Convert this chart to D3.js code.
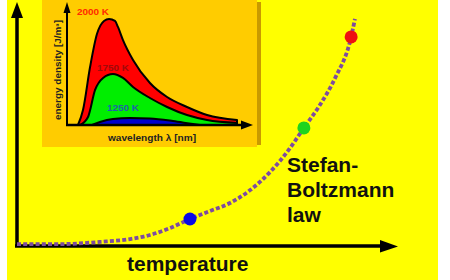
<!DOCTYPE html>
<html><head><meta charset="utf-8">
<script src="https://cdn.jsdelivr.net/npm/d3@7"></script>
<style>html,body{margin:0;padding:0;background:#fff;overflow:hidden}</style>
</head><body>
<svg id="c" width="450" height="280"></svg>
<script>
// ---- main curve (Stefan-Boltzmann) ----
const mainTemp   = [0, 11.3, 21.8, 29.7, 34.9, 40.2, 45.4, 50.7, 55.9, 61.2, 66.4, 71.1, 75.3, 79.5, 83.5, 87.7, 88.7];
const mainEnergy = [0.8, 0.8, 1.7, 2.9, 4.6, 7.5, 11.25, 14.6, 17.9, 23.3, 30.8, 39.6, 49.2, 58.75, 70, 87.1, 94.6];
const markerTemp   = [45.4, 75.3, 87.7];
const markerEnergy = [11.25, 49.2, 87.1];
const markerNames  = ["1250 K", "1750 K", "2000 K"];

// ---- inset spectra ----
const spectrumLabels = ["2000 K", "1750 K", "1250 K"];
const wl2000 = [5.9, 8.6, 12.4, 16.1, 19.9, 22.6, 25.8, 27.4, 30.1, 35.5, 44.6, 53.8, 64.5, 75.3, 91.4];
const en2000 = [0, 12.5, 48.3, 75.8, 86.7, 88.3, 86.7, 81.7, 70.8, 54.2, 35, 23.3, 15, 8.3, 4.2];
const wl1750 = [7.0, 11.3, 15.1, 19.4, 24.7, 30.1, 35.5, 44.6, 53.8, 64.5, 75.3, 91.4];
const en1750 = [0, 6.7, 29.2, 39.2, 42.5, 39.2, 31.7, 22.5, 15, 8.3, 4.2, 1.7];
const wl1250 = [13.4, 17.7, 24.7, 33.9, 44.6, 57.0, 67.7, 71.5];
const en1250 = [0, 2.5, 5, 5.8, 5.4, 3.3, 0.8, 0];

const xLabel = "temperature";
const lawLines = ["Stefan-", "Boltzmann", "law"];
const insetXLabel = "wavelength λ [nm]";
const insetYLabel = "energy density [J/m³]";

// ---- styles ----
const markerColors = {"1250 K": "#0a0ae6", "1750 K": "#1ed41e", "2000 K": "#ee1111"};
const fillColors = {"2000 K": "#ff0000", "1750 K": "#00ee00", "1250 K": "#0000cc"};
const labelColors = {"2000 K": "#ff2a00", "1750 K": "#a00a0a", "1250 K": "#1f63a8"};
const FONT = "'Liberation Sans', Arial, Helvetica, sans-serif";

const svg = d3.select("#c");

// backgrounds
svg.append("rect").attr("x", 7).attr("y", 0).attr("width", 431).attr("height", 280).attr("fill", "#ffff00");

const x = d3.scaleLinear([0, 100], [17, 398]);
const y = d3.scaleLinear([0, 100], [246, 6]);

// main axes
const ax = svg.append("g");
ax.append("line").attr("x1", x(0)).attr("y1", y(0)).attr("x2", x(0)).attr("y2", 16)
  .attr("stroke", "#000").attr("stroke-width", 3.5);
ax.append("path").attr("d", `M${x(0)},2 L${x(0)-6},18 L${x(0)+6},18 Z`).attr("fill", "#000");
ax.append("line").attr("x1", x(0)-2).attr("y1", y(0)).attr("x2", x(100)-14).attr("y2", y(0))
  .attr("stroke", "#000").attr("stroke-width", 3.5);
ax.append("path").attr("d", `M${x(100)},${y(0)+0.5} L${x(100)-18},${y(0)-6} L${x(100)-18},${y(0)+6.5} Z`).attr("fill", "#000");

// inset
const inset = svg.append("g");
inset.append("rect").attr("x", 257).attr("y", 2).attr("width", 4).attr("height", 143).attr("fill", "#c99a00");
inset.append("rect").attr("x", 42).attr("y", 0).attr("width", 215).attr("height", 147).attr("fill", "#ffcc00");

const xi = d3.scaleLinear([0, 100], [67, 253]);
const yi = d3.scaleLinear([0, 100], [125, 5]);

const spectra = [
  {name: "2000 K", w: wl2000, e: en2000},
  {name: "1750 K", w: wl1750, e: en1750},
  {name: "1250 K", w: wl1250, e: en1250}
];
const area = d3.area().x(d => xi(d[0])).y0(yi(0)).y1(d => yi(d[1])).curve(d3.curveMonotoneX);
spectra.forEach(s => {
  const pts = s.w.map((w, i) => [w, s.e[i]]);
  inset.append("path").attr("d", area(pts)).attr("fill", fillColors[s.name])
    .attr("stroke", "#000").attr("stroke-width", 2).attr("stroke-linejoin", "round");
});

// inset axes
inset.append("line").attr("x1", xi(0)).attr("y1", yi(0)).attr("x2", xi(0)).attr("y2", 12)
  .attr("stroke", "#000").attr("stroke-width", 2);
inset.append("path").attr("d", `M${xi(0)},2 L${xi(0)-3.5},13 L${xi(0)+3.5},13 Z`).attr("fill", "#000");
inset.append("line").attr("x1", xi(0)-1).attr("y1", yi(0)).attr("x2", xi(100)-8).attr("y2", yi(0))
  .attr("stroke", "#000").attr("stroke-width", 2.5);
inset.append("path").attr("d", `M${xi(100)},${yi(0)} L${xi(100)-12},${yi(0)-4.5} L${xi(100)-12},${yi(0)+4.5} Z`).attr("fill", "#000");

// inset labels
const labelPos = {"2000 K": [5.4, 91.7], "1750 K": [16.1, 45], "1250 K": [21.5, 11.7]};
spectrumLabels.forEach(n => {
  inset.append("text").attr("x", xi(labelPos[n][0])).attr("y", yi(labelPos[n][1]))
    .attr("font-family", FONT).attr("font-weight", "bold").attr("font-size", 9.5)
    .attr("textLength", 32).attr("lengthAdjust", "spacingAndGlyphs")
    .attr("fill", labelColors[n]).text(n);
});
inset.append("text").attr("x", xi(45.7)).attr("y", yi(-13.3)).attr("text-anchor", "middle")
  .attr("font-family", FONT).attr("font-weight", "bold").attr("font-size", 8.5)
  .attr("textLength", 88).attr("lengthAdjust", "spacingAndGlyphs")
  .attr("fill", "#222").text(insetXLabel);
inset.append("text").attr("transform", `translate(${xi(0)-6},${yi(45.8)}) rotate(-90)`)
  .attr("text-anchor", "middle")
  .attr("font-family", FONT).attr("font-weight", "bold").attr("font-size", 8.5)
  .attr("textLength", 100).attr("lengthAdjust", "spacingAndGlyphs")
  .attr("fill", "#222").text(insetYLabel);

// main curve
const line = d3.line().x(d => x(d[0])).y(d => y(d[1])).curve(d3.curveMonotoneX);
svg.append("path").attr("d", line(mainTemp.map((t, i) => [t, mainEnergy[i]])))
  .attr("fill", "none").attr("stroke", "#7e4ca0").attr("stroke-width", 3.8)
  .attr("stroke-dasharray", "4,2.2");

svg.selectAll("circle.m").data(markerTemp.map((t, i) => ({t, e: markerEnergy[i], n: markerNames[i]})))
  .join("circle").attr("class", "m")
  .attr("cx", d => x(d.t)).attr("cy", d => y(d.e)).attr("r", 6.5)
  .attr("fill", d => markerColors[d.n]);

// main labels
svg.append("text").attr("x", 127).attr("y", 271)
  .attr("font-family", FONT).attr("font-weight", "bold").attr("font-size", 21)
  .attr("fill", "#111").text(xLabel);
const law = svg.append("text").attr("font-family", FONT).attr("font-weight", "bold")
  .attr("font-size", 21).attr("fill", "#111");
lawLines.forEach((t, i) => law.append("tspan").attr("x", 287).attr("y", 172 + i * 25).text(t));
</script>
</body></html>
